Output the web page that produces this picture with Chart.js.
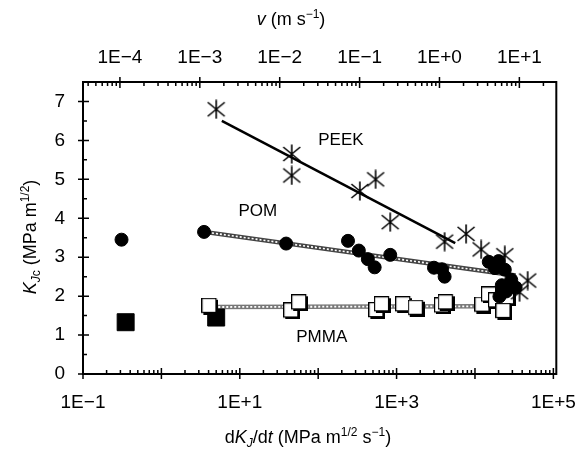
<!DOCTYPE html>
<html>
<head>
<meta charset="utf-8">
<script src="https://cdn.jsdelivr.net/npm/chart.js@4.4.1/dist/chart.umd.min.js"></script>
<style>
  html, body { margin: 0; padding: 0; background: #fff; }
</style>
</head>
<body>
<canvas id="chart" width="585" height="461"></canvas>
<script>
'use strict';

// loading rate dK/dt (MPa m^1/2 s^-1) against K_Jc (MPa m^1/2)
const peekRate = [5.0, 46, 46, 340, 540, 830, 4100, 7700, 12000, 24000, 47000, 37000];
const peekK    = [6.8, 5.65, 5.1, 4.7, 5.0, 3.9, 3.4, 3.6, 3.2, 3.05, 2.4, 2.1];

const pomRate = [0.31, 3.5, 39, 240, 330, 430, 525, 830, 3000, 3800, 4100,
                 15000, 20000, 18000, 24000, 22000, 29000, 25000, 33000, 20500];
const pomK    = [3.45, 3.65, 3.35, 3.42, 3.17, 2.95, 2.74, 3.06, 2.73, 2.69, 2.50,
                 2.88, 2.90, 2.72, 2.68, 2.28, 2.42, 2.12, 2.22, 1.99];

const pmmaRate = [4.15, 46, 58, 560, 660, 1230, 1780, 3850, 4300,
                  12600, 15300, 18800, 25900, 23400];
const pmmaK    = [1.74, 1.62, 1.83, 1.63, 1.78, 1.78, 1.69, 1.75, 1.83,
                  1.77, 2.03, 1.88, 1.96, 1.61];

// PMMA at the two slowest rates (filled squares)
const pmmaSlowRate = [0.35, 5.0];
const pmmaSlowK    = [1.33, 1.45];

// fitted trend lines (end points)
const peekFitRate = [5.9, 5600];
const peekFitK    = [6.5, 3.36];
const pomFitRate  = [3.5, 33000];
const pomFitK     = [3.65, 2.53];
const pmmaFitRate = [4.2, 12600];
const pmmaFitK    = [1.72, 1.74];

// curve names and where they sit
const curveNames = ['PEEK', 'POM', 'PMMA'];
const nameRate   = [195, 17, 111];
const nameK      = [6.0, 4.17, 0.93];

// axis ticks
const rateTicks  = [0.1, 10, 1000, 100000];
const rateLabels = ['1E\u22121', '1E+1', '1E+3', '1E+5'];
const speedTicks  = [1e-4, 1e-3, 1e-2, 1e-1, 1, 10];
const speedLabels = ['1E\u22124', '1E\u22123', '1E\u22122', '1E\u22121', '1E+0', '1E+1'];

const FONT = '"Liberation Sans", Arial, Helvetica, sans-serif';

function pts(xs, ys) {
  return xs.map((x, i) => ({ x: x, y: ys[i] }));
}

// six-armed asterisk marker
function makeStar() {
  const c = document.createElement('canvas');
  c.width = 20; c.height = 20;
  const g = c.getContext('2d');
  g.strokeStyle = '#000';
  g.lineWidth = 1.6;
  g.beginPath();
  g.moveTo(10, 0.5); g.lineTo(10, 19.5);
  g.moveTo(1.5, 3); g.lineTo(18.5, 17);
  g.moveTo(18.5, 3); g.lineTo(1.5, 17);
  g.stroke();
  return c;
}

// open square with a slight dark edge on the right and bottom
function makeBox() {
  const c = document.createElement('canvas');
  c.width = 17; c.height = 17;
  const g = c.getContext('2d');
  g.fillStyle = '#000';
  g.fillRect(2, 2, 15, 15);
  g.fillStyle = '#fff';
  g.fillRect(0.5, 0.5, 14, 14);
  g.strokeStyle = '#000';
  g.lineWidth = 1.2;
  g.strokeRect(0.6, 0.6, 14, 14);
  return c;
}

function drawRich(ctx, parts, x, y, size) {
  const fontOf = p => {
    const s = (p.sup || p.sub) ? Math.round(size * 0.68) : size;
    return (p.it ? 'italic ' : '') + s + 'px ' + FONT;
  };
  let total = 0;
  parts.forEach(p => { ctx.font = fontOf(p); p.w = ctx.measureText(p.t).width; total += p.w; });
  let cx = x - total / 2;
  ctx.textBaseline = 'alphabetic';
  ctx.textAlign = 'left';
  parts.forEach(p => {
    ctx.font = fontOf(p);
    let dy = 0;
    if (p.sup) dy = -size * 0.38;
    if (p.sub) dy = size * 0.22;
    ctx.fillText(p.t, cx, y + dy);
    cx += p.w;
  });
}

const decor = {
  id: 'decor',
  afterDraw(chart) {
    const ctx = chart.ctx;
    const a = chart.chartArea;
    const sx = chart.scales.x, st = chart.scales.x2, sy = chart.scales.y;
    ctx.save();
    ctx.strokeStyle = '#000';
    ctx.fillStyle = '#000';

    // frame
    ctx.lineWidth = 2;
    ctx.strokeRect(a.left, a.top, a.right - a.left, a.bottom - a.top);

    // log ticks on bottom and top
    ctx.lineWidth = 1.5;
    ctx.beginPath();
    [[sx, a.bottom, -1], [st, a.top, 1]].forEach(([s, base, dir]) => {
      for (let d = -6; d <= 6; d++) {
        for (let m = 1; m <= 9; m++) {
          const v = m * Math.pow(10, d);
          if (v < s.min || v > s.max) continue;
          const px = s.getPixelForValue(v);
          if (m === 1) {
            ctx.moveTo(px, base - dir * 5);
            ctx.lineTo(px, base + dir * 6);
          } else {
            ctx.moveTo(px, base);
            ctx.lineTo(px, base + dir * 4);
          }
        }
      }
    });
    // linear ticks on the left
    for (let k = 0; k <= 7; k += 0.5) {
      const py = sy.getPixelForValue(k);
      if (k % 1 === 0) {
        ctx.moveTo(a.left - 5, py);
        ctx.lineTo(a.left + 6, py);
      } else {
        ctx.moveTo(a.left, py);
        ctx.lineTo(a.left + 4, py);
      }
    }
    ctx.stroke();

    // curve names
    ctx.font = '17px ' + FONT;
    ctx.textAlign = 'center';
    ctx.textBaseline = 'middle';
    curveNames.forEach((n, i) => {
      ctx.fillText(n, sx.getPixelForValue(nameRate[i]), sy.getPixelForValue(nameK[i]));
    });

    // axis titles
    drawRich(ctx, [
      { t: 'v', it: true }, { t: ' (m s' }, { t: '\u22121', sup: true }, { t: ')' }
    ], 291, 25, 18);

    drawRich(ctx, [
      { t: 'd' }, { t: 'K', it: true }, { t: 'J', it: true, sub: true }, { t: '/d' },
      { t: 't', it: true }, { t: ' (MPa m' }, { t: '1/2', sup: true }, { t: ' s' },
      { t: '\u22121', sup: true }, { t: ')' }
    ], 308, 443, 18);

    ctx.save();
    ctx.translate(36, 237);
    ctx.rotate(-Math.PI / 2);
    drawRich(ctx, [
      { t: 'K', it: true }, { t: 'J', it: true, sub: true }, { t: 'c', sub: true },
      { t: ' (MPa m' }, { t: '1/2', sup: true }, { t: ')' }
    ], 0, 0, 18);
    ctx.restore();

    ctx.restore();
  }
};

const tickFont = { family: FONT, size: 19 };

new Chart(document.getElementById('chart'), {
  type: 'scatter',
  data: {
    datasets: [
      { label: 'PEEK', data: pts(peekRate, peekK), pointStyle: makeStar(), order: 1 },
      { label: 'POM', data: pts(pomRate, pomK), pointStyle: 'circle', pointRadius: 6.5,
        backgroundColor: '#000', borderColor: '#000', order: 1 },
      { label: 'PMMA', data: pts(pmmaRate, pmmaK), pointStyle: makeBox(), order: 1 },
      { label: 'PMMA slow', data: pts(pmmaSlowRate, pmmaSlowK), pointStyle: 'rect', pointRadius: 12,
        backgroundColor: '#000', borderColor: '#000', order: 2 },
      { label: 'PEEK fit', data: pts(peekFitRate, peekFitK), showLine: true, pointRadius: 0,
        borderColor: '#000', borderWidth: 2.5, order: 5 },
      // grey chain lines: dark band with a white dashed core
      { label: 'POM fit', data: pts(pomFitRate, pomFitK), showLine: true, pointRadius: 0,
        borderColor: '#444', borderWidth: 4.5, order: 6 },
      { label: 'POM fit core', data: pts(pomFitRate, pomFitK), showLine: true, pointRadius: 0,
        borderColor: '#fff', borderWidth: 1.6, borderDash: [2, 2], order: 5 },
      { label: 'PMMA fit', data: pts(pmmaFitRate, pmmaFitK), showLine: true, pointRadius: 0,
        borderColor: '#777', borderWidth: 4.5, order: 6 },
      { label: 'PMMA fit core', data: pts(pmmaFitRate, pmmaFitK), showLine: true, pointRadius: 0,
        borderColor: '#fff', borderWidth: 1.8, borderDash: [2, 2], order: 5 }
    ]
  },
  options: {
    responsive: false,
    animation: false,
    layout: { padding: { left: 0, right: 28, top: 0, bottom: 0 } },
    plugins: { legend: { display: false }, tooltip: { enabled: false } },
    scales: {
      x: {
        type: 'logarithmic', position: 'bottom', min: 0.1, max: 1.09e5,
        grid: { display: false }, border: { display: false },
        afterBuildTicks: s => { s.ticks = rateTicks.map(v => ({ value: v })); },
        afterFit: s => { s.height = 87; },
        ticks: { callback: (v, i) => rateLabels[i], font: tickFont, color: '#000',
                 padding: 9, maxRotation: 0, autoSkip: false }
      },
      x2: {
        type: 'logarithmic', position: 'top', min: 3.45e-5, max: 29,
        grid: { display: false }, border: { display: false },
        afterBuildTicks: s => { s.ticks = speedTicks.map(v => ({ value: v })); },
        afterFit: s => { s.height = 82; },
        ticks: { callback: (v, i) => speedLabels[i], font: tickFont, color: '#000',
                 padding: 5, maxRotation: 0, autoSkip: false }
      },
      y: {
        min: 0, max: 7.5,
        grid: { display: false }, border: { display: false },
        afterBuildTicks: s => { s.ticks = [0, 1, 2, 3, 4, 5, 6, 7].map(v => ({ value: v })); },
        afterFit: s => { s.width = 83; },
        ticks: { font: tickFont, color: '#000', padding: 10 }
      }
    }
  },
  plugins: [decor]
});
</script>
</body>
</html>
